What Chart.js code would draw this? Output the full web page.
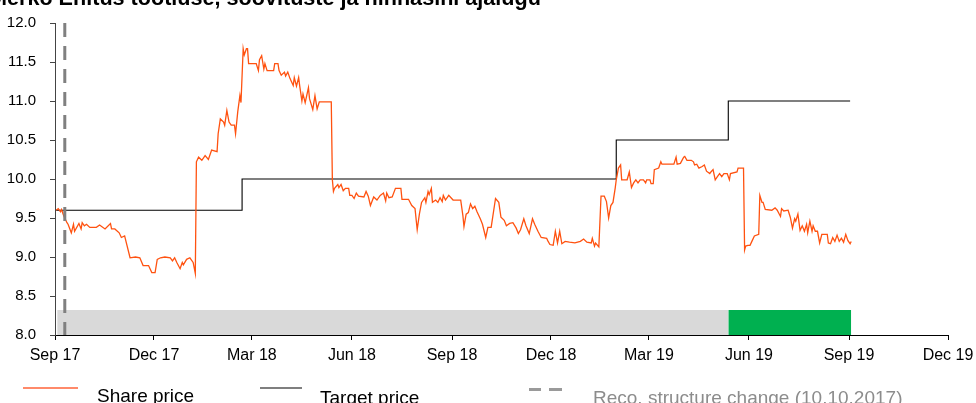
<!DOCTYPE html>
<html>
<head>
<meta charset="utf-8">
<script src="https://cdn.jsdelivr.net/npm/chart.js@4/dist/chart.umd.min.js"></script>
<style>
  html, body { margin: 0; padding: 0; background: #fff; overflow: hidden; }
  #wrap { position: relative; width: 976px; height: 403px; overflow: hidden; font-family: "Liberation Sans", Arial, sans-serif; }
  #chart { position: absolute; left: 0; top: 0; }
  .title { position: absolute; left: -11px; top: -13px; font-size: 21.6px; line-height: 21px; font-weight: bold; color: #000; white-space: nowrap; }
  .lg { position: absolute; font-size: 19px; line-height: 19px; white-space: nowrap; }
  .mk { position: absolute; }
</style>
</head>
<body>
<div id="wrap">
  <canvas id="chart" width="976" height="403"></canvas>
  <div class="title">Merko Ehitus tootluse, soovituste ja hinnasihi ajalugu</div>
  <div class="mk" style="left:23px;top:387px;width:55px;height:2px;background:#ff8a6a"></div>
  <div class="lg" style="left:97px;top:386px;color:#000">Share price</div>
  <div class="mk" style="left:260px;top:387px;width:42px;height:2px;background:#7f7f7f"></div>
  <div class="lg" style="left:320px;top:388px;color:#000">Target price</div>
  <div class="mk" style="left:529px;top:388px;width:12px;height:3px;background:#9a9a9a"></div>
  <div class="mk" style="left:549px;top:388px;width:13px;height:3px;background:#9a9a9a"></div>
  <div class="lg" style="left:593px;top:388px;color:#8c8c8c">Reco. structure change (10.10.2017)</div>
</div>
<script>
// days counted from 1 Sep 2017
const tickDays = [0, 91, 181, 273, 365, 456, 546, 638, 730, 821];
const tickLabels = ['Sep 17', 'Dec 17', 'Mar 18', 'Jun 18', 'Sep 18', 'Dec 18', 'Mar 19', 'Jun 19', 'Sep 19', 'Dec 19'];
const yTicks = [8.0, 8.5, 9.0, 9.5, 10.0, 10.5, 11.0, 11.5, 12.0];

const priceDays = [
  1, 3, 5, 6, 8, 11, 12, 15, 17, 18,
  22, 24, 25, 27, 29, 32, 38, 41, 46, 51,
  52, 55, 59, 61, 64, 69, 74, 78, 81, 86,
  89, 92, 94, 97, 101, 106, 108, 110, 112, 115,
  117, 118, 121, 124, 127, 129, 130, 132, 135, 138,
  141, 144, 149, 150, 152, 155, 156, 158, 160, 162,
  165, 166, 168, 170, 171, 173, 174, 176, 177, 178,
  185, 187, 188, 190, 192, 193, 195, 201, 202, 205,
  206, 208, 211, 212, 214, 216, 219, 220, 222, 224,
  225, 227, 228, 230, 233, 234, 237, 239, 241, 243,
  254, 255, 256, 257, 260, 261, 263, 265, 267, 270,
  271, 273, 275, 277, 279, 284, 286, 288, 290, 293,
  296, 299, 302, 304, 305, 307, 310, 313, 318, 319,
  325, 328, 331, 333, 335, 337, 340, 341, 343, 344,
  346, 347, 350, 352, 354, 356, 357, 359, 362, 366,
  373, 375, 376, 378, 380, 382, 384, 386, 388, 391,
  393, 396, 398, 401, 405, 408, 410, 413, 415, 418,
  421, 424, 426, 428, 431, 433, 436, 439, 441, 444,
  447, 452, 453, 455, 458, 460, 462, 464, 466, 469,
  473, 478, 483, 486, 489, 493, 494, 496, 497, 500,
  502, 505, 507, 509, 511, 513, 515, 516, 518, 520,
  521, 526, 528, 530, 532, 534, 536, 538, 541, 543,
  544, 547, 548, 550, 551, 555, 557, 558, 569, 571,
  572, 575, 578, 579, 581, 585, 587, 588, 590, 592,
  595, 597, 599, 602, 603, 605, 607, 609, 611, 613,
  615, 618, 620, 621, 627, 628, 633, 634, 635, 637,
  639, 641, 643, 647, 648, 650, 651, 653, 659, 662,
  664, 667, 668, 670, 674, 676, 678, 680, 681, 683,
  685, 687, 689, 691, 692, 694, 696, 697, 699, 701,
  703, 705, 710, 711, 713, 715, 717, 719, 721, 723,
  725, 727, 729, 731, 732
];
const priceValues = [
  9.60, 9.62, 9.58, 9.61, 9.53, 9.44, 9.42, 9.31, 9.42, 9.33,
  9.43, 9.36, 9.44, 9.40, 9.42, 9.38, 9.38, 9.41, 9.36, 9.43,
  9.36, 9.36, 9.31, 9.25, 9.27, 8.99, 9.00, 8.99, 8.89, 8.89,
  8.80, 8.80, 8.97, 8.99, 9.00, 8.99, 8.95, 8.99, 8.93, 8.85,
  8.93, 8.90, 8.97, 8.99, 8.93, 8.79, 10.22, 10.28, 10.24, 10.30,
  10.25, 10.37, 10.35, 10.58, 10.77, 10.73, 10.69, 10.88, 10.73, 10.69,
  10.69, 10.58, 10.86, 11.07, 10.98, 11.67, 11.59, 11.67, 11.67, 11.48,
  11.48, 11.39, 11.53, 11.58, 11.41, 11.48, 11.39, 11.39, 11.48, 11.48,
  11.39, 11.33, 11.37, 11.32, 11.37, 11.29, 11.20, 11.30, 11.19, 11.30,
  11.19, 11.00, 11.09, 10.98, 11.17, 11.03, 10.89, 11.07, 10.90, 10.99,
  10.99, 9.99, 9.84, 9.88, 9.93, 9.89, 9.93, 9.85, 9.88, 9.88,
  9.79, 9.79, 9.75, 9.82, 9.78, 9.77, 9.84, 9.78, 9.66, 9.77,
  9.73, 9.79, 9.82, 9.72, 9.82, 9.76, 9.77, 9.88, 9.88, 9.74,
  9.74, 9.66, 9.62, 9.35, 9.55, 9.70, 9.76, 9.70, 9.84, 9.80,
  9.88, 9.70, 9.73, 9.70, 9.76, 9.71, 9.79, 9.73, 9.79, 9.73,
  9.73, 9.53, 9.39, 9.55, 9.57, 9.68, 9.62, 9.65, 9.58, 9.49,
  9.42, 9.25, 9.38, 9.38, 9.75, 9.70, 9.51, 9.47, 9.40, 9.43,
  9.44, 9.37, 9.30, 9.35, 9.49, 9.40, 9.30, 9.49, 9.42, 9.33,
  9.25, 9.24, 9.21, 9.16, 9.15, 9.33, 9.18, 9.33, 9.17, 9.20,
  9.19, 9.18, 9.20, 9.23, 9.19, 9.18, 9.24, 9.14, 9.18, 9.13,
  9.78, 9.78, 9.71, 9.50, 9.66, 9.70, 9.88, 9.99, 10.14, 10.18,
  9.99, 9.99, 10.09, 9.89, 9.95, 9.99, 9.95, 9.99, 9.99, 9.95,
  9.99, 9.99, 9.94, 9.94, 10.12, 10.14, 10.22, 10.19, 10.19, 10.28,
  10.19, 10.20, 10.28, 10.29, 10.24, 10.24, 10.22, 10.18, 10.19, 10.14,
  10.16, 10.18, 10.10, 10.07, 10.09, 10.12, 9.99, 10.03, 10.07, 10.03,
  10.07, 10.07, 9.99, 10.07, 10.09, 10.14, 10.14, 9.09, 9.14, 9.15,
  9.15, 9.21, 9.27, 9.29, 9.79, 9.70, 9.70, 9.61, 9.60, 9.63,
  9.60, 9.52, 9.62, 9.59, 9.60, 9.51, 9.37, 9.49, 9.46, 9.55,
  9.34, 9.40, 9.33, 9.42, 9.31, 9.46, 9.33, 9.40, 9.33, 9.33,
  9.18, 9.29, 9.29, 9.18, 9.17, 9.25, 9.20, 9.28, 9.20, 9.24,
  9.19, 9.29, 9.21, 9.17, 9.20
];

const targetDays = [1, 172, 516, 619, 731];
const targetValues = [9.6, 10.0, 10.5, 11.0, 11.0];

const recoChangeDay = 9;

// recommendation band at the bottom
const holdBandDays = [2, 619];
const buyBandDays = [619, 732];
const bandLevel = 8.32;

const pts = (xs, ys) => xs.map((x, i) => ({ x: x, y: ys[i] }));
const flat = (xs, y) => xs.map(x => ({ x: x, y: y }));

new Chart(document.getElementById('chart'), {
  type: 'line',
  data: {
    datasets: [
      {
        label: 'Reco. structure change (10.10.2017)',
        data: [{ x: recoChangeDay, y: 12 }, { x: recoChangeDay, y: 8 }],
        borderColor: '#808080',
        borderWidth: 3,
        borderDash: [14, 9],
        pointRadius: 0,
        order: 0
      },
      {
        label: 'Share price',
        data: pts(priceDays, priceValues),
        borderColor: '#ff5210',
        borderWidth: 1.3,
        pointRadius: 0,
        tension: 0,
        order: 1
      },
      {
        label: 'Target price',
        data: pts(targetDays, targetValues),
        borderColor: '#000000',
        borderWidth: 1.1,
        stepped: 'before',
        pointRadius: 0,
        order: 2
      },
      {
        label: 'hold',
        data: flat(holdBandDays, bandLevel),
        borderWidth: 0,
        borderColor: 'rgba(0,0,0,0)',
        backgroundColor: '#d9d9d9',
        fill: 'start',
        pointRadius: 0,
        order: 3
      },
      {
        label: 'buy',
        data: flat(buyBandDays, bandLevel),
        borderWidth: 0,
        borderColor: 'rgba(0,0,0,0)',
        backgroundColor: '#00b050',
        fill: 'start',
        pointRadius: 0,
        order: 3
      }
    ]
  },
  options: {
    responsive: false,
    animation: false,
    layout: { padding: { top: 20, right: 28, bottom: 0, left: 0 } },
    plugins: {
      legend: { display: false },
      tooltip: { enabled: false }
    },
    scales: {
      x: {
        type: 'linear',
        min: tickDays[0],
        max: tickDays[tickDays.length - 1],
        z: 1,
        afterBuildTicks: (scale) => { scale.ticks = tickDays.map(v => ({ value: v })); },
        afterFit: (scale) => { scale.height = 68; scale.paddingRight = 0; scale.paddingLeft = 0; },
        grid: { display: true, drawOnChartArea: false, drawTicks: true, tickLength: 5, color: '#000' },
        border: { display: true, color: '#000', width: 1 },
        ticks: {
          autoSkip: false,
          maxRotation: 0,
          padding: 6,
          color: '#000',
          font: { family: '"Liberation Sans", Arial, sans-serif', size: 16 },
          callback: (v) => { const i = tickDays.indexOf(v); return i >= 0 ? tickLabels[i] : ''; }
        }
      },
      y: {
        min: yTicks[0],
        max: yTicks[yTicks.length - 1],
        z: 1,
        afterBuildTicks: (scale) => { scale.ticks = yTicks.map(v => ({ value: v })); },
        afterFit: (scale) => { scale.width = 55; },
        grid: { display: true, drawOnChartArea: false, drawTicks: true, tickLength: 5, color: '#444' },
        border: { display: true, color: '#444', width: 1 },
        ticks: {
          padding: 14,
          color: '#000',
          font: { family: '"Liberation Sans", Arial, sans-serif', size: 15 },
          callback: (v) => Number(v).toFixed(1)
        }
      }
    }
  }
});
</script>
</body>
</html>
